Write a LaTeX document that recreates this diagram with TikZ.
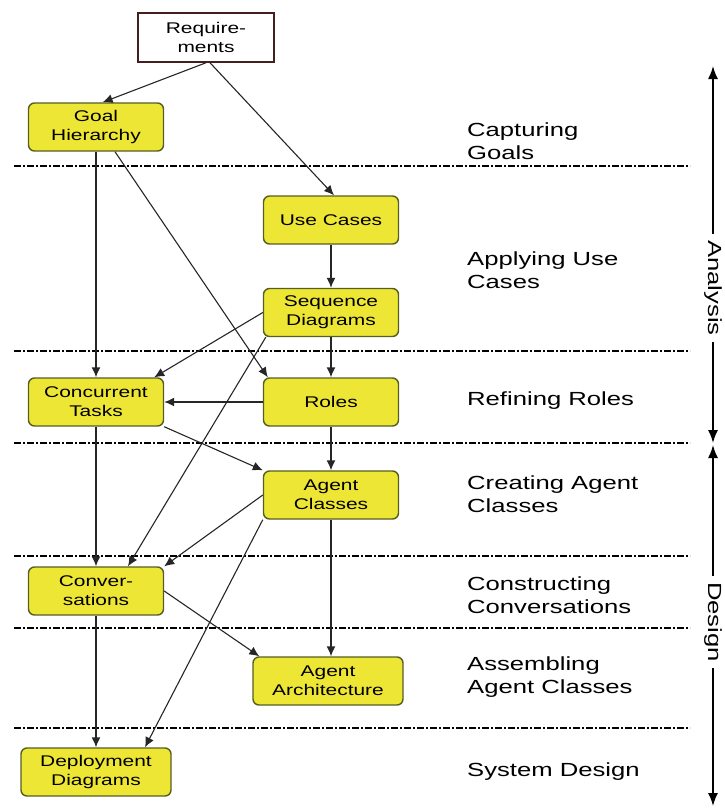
\documentclass[tikz,border=0pt]{standalone}
\usepackage{fontspec}
\setmainfont{Liberation Sans}[FakeStretch=1.35]
\usetikzlibrary{arrows.meta}
\definecolor{boxfill}{RGB}{238,230,52}
\definecolor{boxline}{RGB}{85,95,35}
\definecolor{reqline}{RGB}{70,30,30}

\begin{document}
\begin{tikzpicture}[x=1pt,y=-1pt]

    \tikzset{
      activity/.style={
        draw=boxline,
        fill=boxfill,
        line width=1.4pt,
        rounded corners=6pt,
        minimum width=135pt,
        minimum height=48pt,
        inner sep=0pt,
        align=center,
        font=\fontsize{15.5}{19}\selectfont,
      },
      source/.style={
        draw=reqline,
        fill=white,
        line width=1.5pt,
        minimum width=136pt,
        minimum height=49pt,
        inner sep=0pt,
        align=center,
        font=\fontsize{15.5}{19}\selectfont,
      },
      flow/.style={-{Latex[length=10pt,width=9pt]}, line width=1.4pt, draw=black!85},
      cross/.style={flow, line width=1.1pt},
      boundary/.style={line width=1.2pt, dash pattern=on 7pt off 2pt on 2pt off 2pt},
      stage/.style={anchor=west, align=left, inner sep=0pt, font=\fontsize{19}{23.5}\selectfont},
      phase/.style={rotate=-90, inner sep=6pt, font=\fontsize{19}{22}\selectfont},
      span/.style={-{Latex[length=13pt,width=10pt]}, line width=1.6pt},
    }
    \useasboundingbox (0,0) rectangle (724,809);

    % phase boundaries
    \foreach \y in {166,351,443,556,628,728}
      \draw[boundary] (14,\y) -- (690,\y);

    % work products
    \node[source] (req) at (206,37.5) {Require-\\ments};
    \node[activity] (goal) at (96,127) {Goal\\Hierarchy};
    \node[activity] (usecase) at (331,220) {Use Cases};
    \node[activity] (seq) at (331,312.5) {Sequence\\Diagrams};
    \node[activity] (conc) at (96,402) {Concurrent\\Tasks};
    \node[activity] (roles) at (331,402) {Roles};
    \node[activity] (agent) at (331,495) {Agent\\Classes};
    \node[activity] (conv) at (96,591) {Conver-\\sations};
    \node[activity, minimum width=150pt] (arch) at (328,681) {Agent\\Architecture};
    \node[activity, minimum width=150pt] (deploy) at (96,772) {Deployment\\Diagrams};

    % steps
    \node[stage] (capture) at (467,141) {Capturing\\Goals};
    \node[stage] (apply) at (467,270) {Applying Use\\Cases};
    \node[stage] (refine) at (467,401) {Refining Roles};
    \node[stage] (create) at (467,494) {Creating Agent\\Classes};
    \node[stage] (construct) at (467,595) {Constructing\\Conversations};
    \node[stage] (assemble) at (467,677) {Assembling\\Agent Classes};
    \node[stage] (sysdesign) at (467,772) {System Design};

    % phases
    \node[phase] (analysis) at (713,288) {Analysis};
    \node[phase] (design) at (713,622) {Design};
    \coordinate (antop) at (713,66);
    \coordinate (anbot) at (713,443);
    \coordinate (detop) at (713,445);
    \coordinate (debot) at (713,806);
    \draw[span] (analysis.west) -- (antop);
    \draw[span] (analysis.east) -- (anbot);
    \draw[span] (design.west) -- (detop);
    \draw[span] (design.east) -- (debot);

    % connectors
    \draw[cross] (req.south) -- (goal.75);
    \draw[cross] ([xshift=4pt]req.south) -- ([xshift=3pt]usecase.north);
    \draw[flow] (goal.south) -- (conc.north);
    \draw[cross] ([xshift=19pt]goal.south) -- ([xshift=5pt]roles.north west);
    \draw[flow] (usecase.south) -- (seq.north);
    \draw[flow] (seq.south) -- (roles.north);
    \draw[cross] (seq.west) -- ([xshift=-10pt]conc.north east);
    \draw[cross] ([xshift=3pt]seq.south west) -- ([xshift=32pt]conv.north);
    \draw[flow] (roles.west) -- (conc.east);
    \draw[flow] (roles.south) -- (agent.north);
    \draw[cross] (conc.south east) -- (agent.north west);
    \draw[flow] (conc.south) -- (conv.north);
    \draw[cross] (agent.west) -- (conv.north east);
    \draw[cross] (agent.south west) -- ([xshift=49pt]deploy.north);
    \draw[flow] (agent.south) -- (agent.south |- arch.north);
    \draw[cross] (conv.east) -- ([xshift=7pt]arch.north west);
    \draw[flow] (conv.south) -- (deploy.north);

\end{tikzpicture}
\end{document}
